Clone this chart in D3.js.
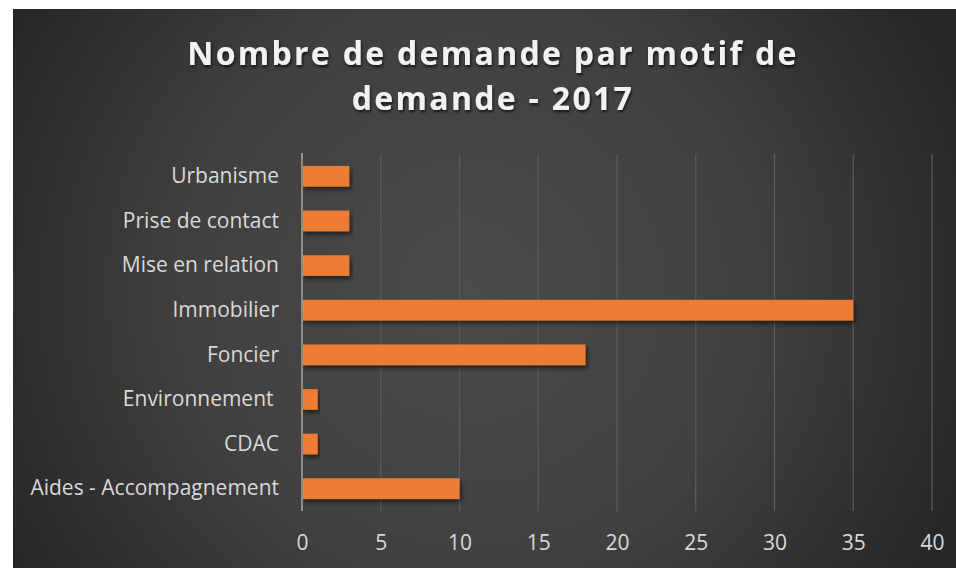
<!DOCTYPE html>
<meta charset="utf-8">
<style>
  body { margin: 0; background: #fff; }
  .tick text { font-family: "Open Sans", sans-serif; white-space: pre; }
</style>
<body>
<script src="https://cdnjs.cloudflare.com/ajax/libs/d3/7.8.5/d3.min.js"></script>
<script>
// categories, bottom to top as in the source sheet
var categories = ["Aides - Accompagnement", "CDAC", "Environnement ", "Foncier",
                  "Immobilier", "Mise en relation", "Prise de contact", "Urbanisme"];
var counts = [10, 1, 1, 18, 35, 3, 3, 3];
var xTicks = [0, 5, 10, 15, 20, 25, 30, 35, 40];
var titleLines = ["Nombre de demande par motif de", "demande - 2017"];

var W = 956, H = 568;
var plot = {left: 302, right: 932, top: 154, bottom: 511};

var svg = d3.select("body").append("svg")
    .attr("width", W)
    .attr("height", H);

var defs = svg.append("defs");

// dark radial background like the Excel style
var grad = defs.append("radialGradient")
    .attr("id", "bg")
    .attr("gradientUnits", "userSpaceOnUse")
    .attr("cx", 470).attr("cy", 290).attr("r", 520);
grad.append("stop").attr("offset", "0%").attr("stop-color", "#4b4b4b");
grad.append("stop").attr("offset", "55%").attr("stop-color", "#404040");
grad.append("stop").attr("offset", "100%").attr("stop-color", "#272727");

var barShadow = defs.append("filter").attr("id", "barShadow")
    .attr("x", "-5%").attr("y", "-30%").attr("width", "115%").attr("height", "180%");
barShadow.append("feDropShadow")
    .attr("dx", 2).attr("dy", 3).attr("stdDeviation", 2.5)
    .attr("flood-color", "#000").attr("flood-opacity", 0.55);

var textShadow = defs.append("filter").attr("id", "textShadow")
    .attr("x", "-5%").attr("y", "-30%").attr("width", "115%").attr("height", "170%");
textShadow.append("feDropShadow")
    .attr("dx", 1).attr("dy", 2).attr("stdDeviation", 1.5)
    .attr("flood-color", "#000").attr("flood-opacity", 0.7);

svg.append("rect")
    .attr("x", 13).attr("y", 9)
    .attr("width", W - 13).attr("height", H - 9)
    .attr("fill", "url(#bg)");

// scales
var x = d3.scaleLinear().domain([0, 40]).range([plot.left, plot.right]);
var y = d3.scaleBand()
    .domain(categories.slice().reverse())
    .range([plot.top, plot.bottom])
    .paddingInner(0.535)
    .paddingOuter(0.2675);

// vertical gridlines
svg.append("g")
    .selectAll("line")
    .data(xTicks.slice(1))
    .join("line")
      .attr("x1", d => x(d)).attr("x2", d => x(d))
      .attr("y1", plot.top).attr("y2", plot.bottom)
      .attr("stroke", "#5a5a5a")
      .attr("stroke-width", 1.3);

// x axis labels
var xAxis = svg.append("g")
    .attr("transform", "translate(0," + (plot.bottom + 21) + ")")
    .call(d3.axisBottom(x).tickValues(xTicks).tickSize(0).tickPadding(3));
xAxis.select(".domain").remove();
xAxis.selectAll("text")
    .attr("fill", "#d9d9d9")
    .attr("font-size", 21);

// bars
svg.append("g")
    .selectAll("rect")
    .data(categories)
    .join("rect")
      .attr("x", x(0))
      .attr("y", d => y(d))
      .attr("width", (d, i) => x(counts[i]) - x(0))
      .attr("height", y.bandwidth())
      .attr("fill", "#ed7d31")
      .attr("filter", "url(#barShadow)");

// y axis
var yAxis = svg.append("g")
    .attr("transform", "translate(" + plot.left + ",0)")
    .call(d3.axisLeft(y).tickSize(0).tickPadding(23));
yAxis.select(".domain")
    .attr("stroke", "#8c8c8c")
    .attr("stroke-width", 2)
    .attr("d", "M0," + (plot.top - 1) + "V" + plot.bottom);
yAxis.selectAll("text")
    .attr("fill", "#d9d9d9")
    .attr("font-size", 21);

// title
svg.append("text")
    .attr("x", 493)
    .attr("text-anchor", "middle")
    .attr("font-family", "'Open Sans', sans-serif")
    .attr("font-weight", "bold")
    .attr("font-size", 32)
    .attr("letter-spacing", 2.3)
    .attr("fill", "#f2f2f2")
    .attr("filter", "url(#textShadow)")
  .selectAll("tspan")
  .data(titleLines)
  .join("tspan")
    .attr("x", 493)
    .attr("y", (d, i) => 65 + i * 45)
    .text(d => d);
</script>
</body>
